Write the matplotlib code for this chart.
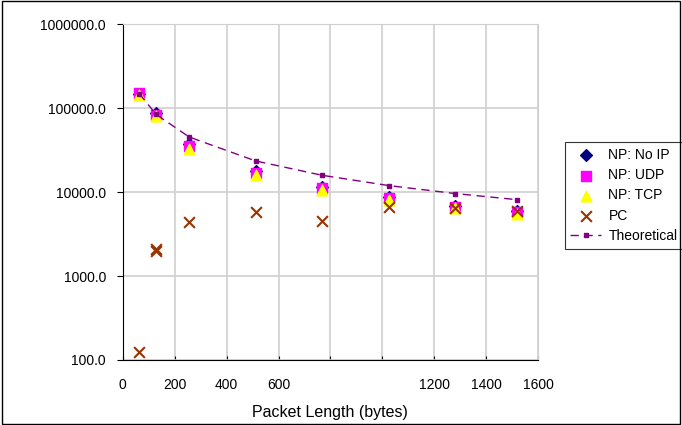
import matplotlib.pyplot as plt
from matplotlib.patches import Rectangle
from matplotlib.ticker import FixedLocator, FuncFormatter, NullLocator

plt.rcParams['font.family'] = ['Liberation Sans', 'DejaVu Sans']

# packet lengths (bytes)
longitudes = [64, 128, 256, 512, 768, 1024, 1280, 1518]
# packets per second
np_no_ip = [149000, 87000, 37000, 17800, 11600, 8800, 6900, 6000]
np_udp = [150000, 84000, 35300, 17000, 11200, 8550, 6700, 5850]
np_tcp = [145000, 80000, 32500, 16200, 10600, 8000, 6400, 5450]
pc = [126, 2000, 4400, 5780, 4520, 6680, 6500, 5940]
pc_extra_x = [128]
pc_extra_y = [2100]
teorico = [148800, 84500, 45300, 23500, 15860, 11970, 9615, 8130]

xticks = [0, 200, 400, 600, 800, 1000, 1200, 1400, 1600]
xlabels = ['0', '200', '400', '600', '', '', '1200', '1400', '1600']

fig = plt.figure(figsize=(6.82, 4.25), dpi=100)
ax = fig.add_axes([0.18, 0.153, 0.609, 0.79])

ax.grid(True, color='#d0d0d0', linewidth=1.2, zorder=0)
ax.set_axisbelow(True)

ax.scatter(longitudes, np_no_ip, marker='D', s=36, color='#000080', label='NP: No IP', zorder=3)
ax.scatter(longitudes, np_udp, marker='s', s=48, color='#ff00ff', label='NP: UDP', zorder=4)
ax.scatter(longitudes, np_tcp, marker='^', s=60, color='#ffff00', label='NP: TCP', zorder=5)
ax.scatter(longitudes, pc, marker='x', s=60, color='#993300', linewidths=1.5, label='PC', zorder=6)
ax.scatter(pc_extra_x, pc_extra_y, marker='x', s=60, color='#993300', linewidths=1.5, zorder=6)
ax.plot(longitudes, teorico, linestyle=(0, (6, 4)), color='#800080', linewidth=1,
        marker='s', markersize=3.5, label='Theoretical', zorder=7)

ax.set_yscale('log')
ax.set_ylim(100, 1000000)
ax.set_xlim(0, 1600)
ax.yaxis.set_major_formatter(FuncFormatter(lambda v, p: '%.1f' % v))
ax.yaxis.set_minor_locator(NullLocator())
ax.xaxis.set_major_locator(FixedLocator(xticks))
ax.set_xticklabels(xlabels)
ax.tick_params(axis='both', labelsize=10, length=4, direction='out', pad=8)
ax.tick_params(axis='x', direction='in', length=3, pad=13)

ax.set_xlabel('Packet Length (bytes)', fontsize=11.5, labelpad=9)

ax.spines['left'].set_color('black')
ax.spines['bottom'].set_color('black')
ax.spines['top'].set_color('#d0d0d0')
ax.spines['right'].set_color('#d0d0d0')

leg = ax.legend(loc='center left', bbox_to_anchor=(1.064, 0.49), fontsize=10,
                frameon=True, fancybox=False, edgecolor='black', borderpad=0.4,
                labelspacing=0.45, handlelength=2.2, handletextpad=0.55, borderaxespad=0)
leg.get_frame().set_linewidth(0.8)

fig.patches.append(Rectangle((0.003, 0.003), 0.994, 0.994, transform=fig.transFigure,
                             fill=False, edgecolor='black', linewidth=1))

fig.savefig('out.png', dpi=100)
